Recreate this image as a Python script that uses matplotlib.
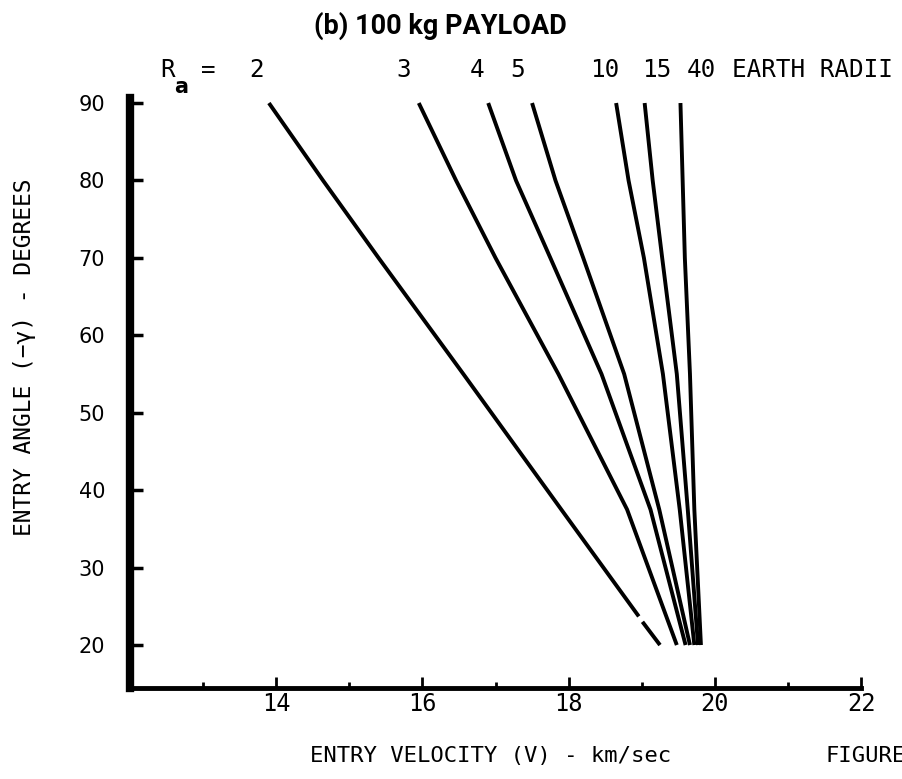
import matplotlib
matplotlib.use("Agg")
import matplotlib.pyplot as plt

# entry angle (deg) where each curve was read
angles = [90, 80, 70, 55, 37.5, 20]

# entry velocity (km/s) for each apogee radius Ra
v_ra3 = [15.95, 16.46, 17.0, 17.86, 18.8, 19.48]
v_ra4 = [16.9, 17.28, 17.75, 18.45, 19.12, 19.6]
v_ra5 = [17.5, 17.82, 18.2, 18.76, 19.24, 19.66]
v_ra10 = [18.65, 18.82, 19.03, 19.29, 19.52, 19.72]
v_ra15 = [19.04, 19.15, 19.28, 19.48, 19.63, 19.77]
v_ra40 = [19.53, 19.56, 19.59, 19.66, 19.72, 19.81]

# Ra = 2 curve has a short break in the scan near 23 deg
ra2_upper_angles = [90, 80, 70, 55, 37.5, 23.7]
ra2_upper_v = [13.9, 14.64, 15.4, 16.56, 17.9, 18.96]
ra2_lower_angles = [23.0, 20]
ra2_lower_v = [19.01, 19.25]

curves = [v_ra3, v_ra4, v_ra5, v_ra10, v_ra15, v_ra40]
ra_labels = ["2", "3", "4", "5", "10", "15", "40"]
ra_label_x = [13.73, 15.75, 16.75, 17.30, 18.49, 19.20, 19.82]

x_major = [14, 16, 18, 20, 22]
x_minor = [13, 15, 17, 19, 21]
y_ticks = [20, 30, 40, 50, 60, 70, 80, 90]

mono = "DejaVu Sans Mono"

fig = plt.figure(figsize=(9.03, 7.79), dpi=100)
ax = fig.add_axes([0.144, 0.1168, 0.8095, 0.7574])

ax.plot(ra2_upper_v, ra2_upper_angles, color="black", lw=2.8, solid_capstyle="butt")
ax.plot(ra2_lower_v, ra2_lower_angles, color="black", lw=2.8, solid_capstyle="butt")
for v in curves:
    ax.plot(v, angles, color="black", lw=2.8, solid_capstyle="butt")

ax.set_xlim(12, 22)
ax.set_ylim(14.45, 90.65)

ax.spines["top"].set_visible(False)
ax.spines["right"].set_visible(False)
ax.spines["left"].set_linewidth(6)
ax.spines["bottom"].set_linewidth(3.5)

ax.set_xticks(x_major)
ax.set_xticks(x_minor, minor=True)
ax.set_yticks(y_ticks)
ax.tick_params(axis="x", which="major", direction="in", length=8, width=2, pad=3)
ax.tick_params(axis="x", which="minor", direction="in", length=4, width=2)
ax.tick_params(axis="y", direction="in", length=9, width=2.5, pad=18)

for lab in ax.get_xticklabels():
    lab.set_fontfamily(mono)
    lab.set_fontsize(17)
for lab in ax.get_yticklabels():
    lab.set_fontfamily("DejaVu Sans")
    lab.set_fontsize(15)

ax.set_ylabel("ENTRY ANGLE (\u2212\u03b3) - DEGREES", family=mono, fontsize=16.5)
ax.yaxis.set_label_coords(-0.1286, 0.56)

fig.text(491 / 903, 1 - 756 / 779, "ENTRY VELOCITY (V) - km/sec", family=mono,
         fontsize=16, ha="center", va="center")
# the figure number runs off the right edge in the scan
fig.text(826 / 903, 1 - 756 / 779, "FIGURE", family=mono, fontsize=16,
         ha="left", va="center")

# title
fig.text(440 / 903, 1 - 26 / 779, "(b) 100 kg PAYLOAD", family="Roboto",
         fontweight="bold", fontsize=19.5, ha="center", va="center")

# Ra labels row
label_y = 94.3
ax.text(12.52, label_y, "R", family=mono, fontsize=17.5, ha="center", va="center", clip_on=False)
ax.text(12.70, label_y - 2.2, "a", family="DejaVu Sans", fontweight="bold", fontsize=15,
        ha="center", va="center", clip_on=False)
ax.text(13.07, label_y, "=", family=mono, fontsize=17.5, ha="center", va="center", clip_on=False)
for lab, xv in zip(ra_labels, ra_label_x):
    ax.text(xv, label_y, lab, family=mono, fontsize=17.5, ha="center", va="center", clip_on=False)
ax.text(20.24, label_y, "EARTH RADII", family=mono, fontsize=17.5, ha="left",
        va="center", clip_on=False)

fig.savefig("out.png", dpi=100)
